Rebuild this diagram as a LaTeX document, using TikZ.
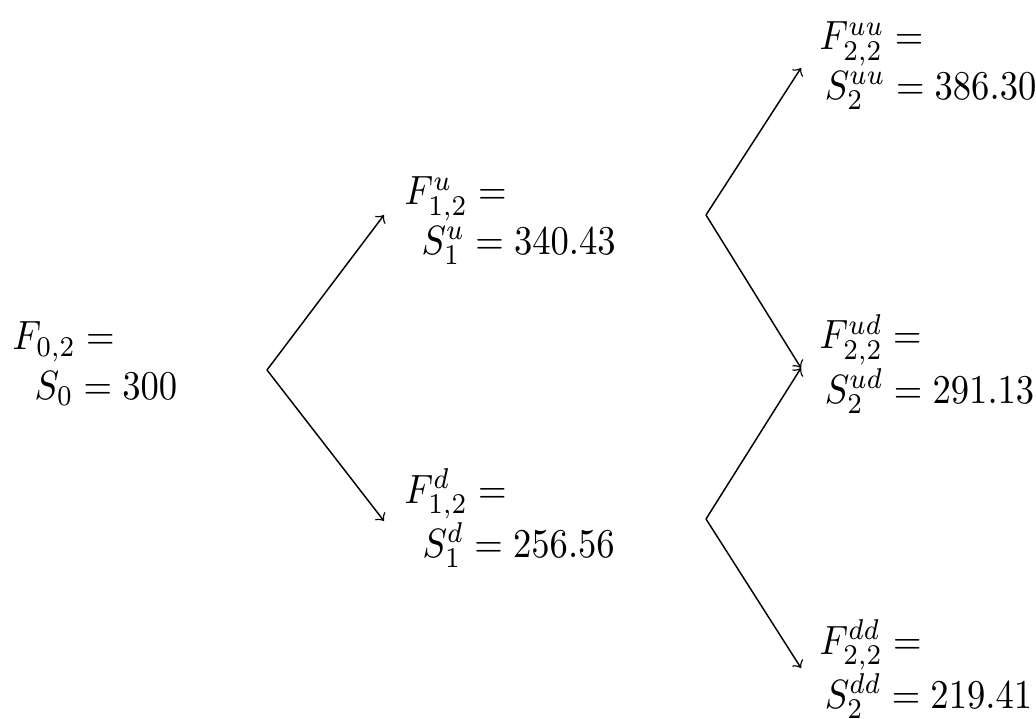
\documentclass[tikz,border=0pt]{standalone}
\usepackage{amsmath}
\usepackage{graphicx}
\newcommand{\stlines}[3]{\scalebox{1}[1.117]{\vtop{\baselineskip=12pt\hbox{$#2$}\hbox{\hspace*{#1}$#3$}}}}
\begin{document}
\begin{tikzpicture}[x=0.2732pt,y=-0.2732pt,
  state/.style={anchor=base west,inner sep=0pt},
  branch/.style={->,thin}]
\useasboundingbox (0,0) rectangle (1036,719);
% state nodes (anchored at the baseline of their first line)
\node[state] (n0)  at (12,350)  {\stlines{6pt}{F_{0,2} =}{S_0 = 300}};
\node[state] (nu)  at (404,205) {\stlines{4.6pt}{F^{u}_{1,2} =}{S^{u}_1 = 340.43}};
\node[state] (nd)  at (404,503) {\stlines{4.9pt}{F^{d}_{1,2} =}{S^{d}_1 = 256.56}};
\node[state] (nuu) at (819,50)  {\stlines{1.4pt}{F^{uu}_{2,2} =}{S^{uu}_2 = 386.30}};
\node[state] (nud) at (819,349) {\stlines{1.4pt}{F^{ud}_{2,2} =}{S^{ud}_2 = 291.13}};
\node[state] (ndd) at (819,654) {\stlines{1.4pt}{F^{dd}_{2,2} =}{S^{dd}_2 = 219.41}};
% branch points
\coordinate (o0)  at (267,370);
\coordinate (iu)  at (384,215);
\coordinate (id)  at (384,521);
\coordinate (ou)  at (706,215);
\coordinate (od)  at (706,519);
\coordinate (iuu) at (801,68);
\coordinate (iud) at (801,368);
\coordinate (idd) at (801,668);
% connectors
\draw[branch] (o0) -- (iu);
\draw[branch] (o0) -- (id);
\draw[branch] (ou) -- (iuu);
\draw[branch] (ou) -- (iud);
\draw[branch] (od) -- (iud);
\draw[branch] (od) -- (idd);
\end{tikzpicture}
\end{document}
